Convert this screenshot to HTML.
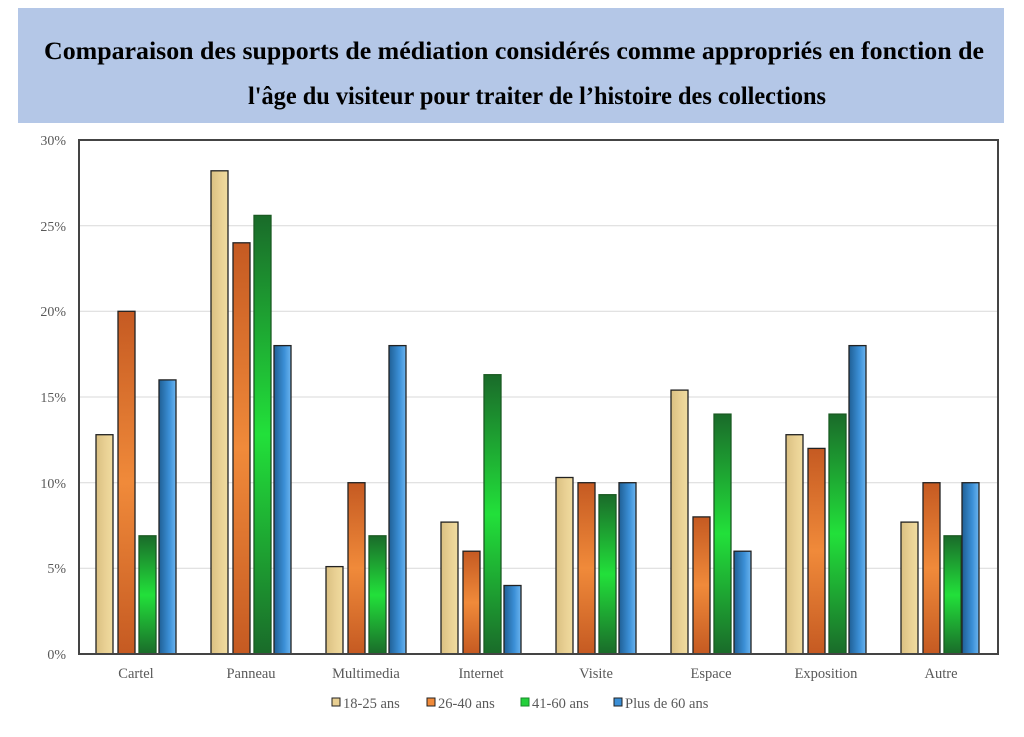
<!DOCTYPE html>
<html><head><meta charset="utf-8"><style>
body{margin:0;background:#fff;}
svg{display:block;}
</style></head><body>
<svg width="1024" height="737" viewBox="0 0 1024 737" xmlns="http://www.w3.org/2000/svg">
<defs>
<linearGradient id="gt" x1="0" y1="0" x2="1" y2="0"><stop offset="0" stop-color="#d9bf82"/><stop offset="0.5" stop-color="#e8cf92"/><stop offset="1" stop-color="#f0dca0"/></linearGradient>
<linearGradient id="go" x1="0" y1="0" x2="0" y2="1"><stop offset="0" stop-color="#c55a22"/><stop offset="0.5" stop-color="#f08a3a"/><stop offset="1" stop-color="#c55a22"/></linearGradient>
<linearGradient id="gg" x1="0" y1="0" x2="0" y2="1"><stop offset="0" stop-color="#1a6b2a"/><stop offset="0.5" stop-color="#22e03a"/><stop offset="1" stop-color="#1a6b2a"/></linearGradient>
<linearGradient id="gb" x1="0" y1="0" x2="1" y2="0"><stop offset="0" stop-color="#1f5f95"/><stop offset="0.6" stop-color="#3b8fd6"/><stop offset="1" stop-color="#6ab4f0"/></linearGradient>
</defs>
<rect x="18" y="8" width="986" height="115" fill="#b4c7e7"/>
<g font-family="Liberation Serif, serif" font-weight="bold" font-size="25.5" text-anchor="middle" fill="#000">
<text x="514" y="59" textLength="940" lengthAdjust="spacingAndGlyphs">Comparaison des supports de médiation considérés comme appropriés en fonction de</text>
<text x="537" y="104" textLength="578" lengthAdjust="spacingAndGlyphs">l'âge du visiteur pour traiter de l’histoire des collections</text>
</g>
<g stroke="#d9d9d9" stroke-width="1">
<line x1="79" y1="568.3" x2="998" y2="568.3"/><line x1="79" y1="482.7" x2="998" y2="482.7"/>
<line x1="79" y1="397" x2="998" y2="397"/><line x1="79" y1="311.3" x2="998" y2="311.3"/>
<line x1="79" y1="225.7" x2="998" y2="225.7"/>
</g>
<g font-family="Liberation Serif, serif" font-size="14" fill="#595959" text-anchor="end">
<text x="66" y="145">30%</text><text x="66" y="231">25%</text><text x="66" y="316">20%</text>
<text x="66" y="402">15%</text><text x="66" y="488">10%</text><text x="66" y="573">5%</text><text x="66" y="659">0%</text>
</g>
<g stroke="#222" stroke-width="1.3">
<rect x="96" y="434.7" width="17" height="219.3" fill="url(#gt)"/><rect x="118" y="311.3" width="17" height="342.7" fill="url(#go)"/><rect x="139" y="535.8" width="17" height="118.2" fill="url(#gg)" stroke="#1a5a22"/><rect x="159" y="379.9" width="17" height="274.1" fill="url(#gb)"/>
<rect x="211" y="170.8" width="17" height="483.2" fill="url(#gt)"/><rect x="233" y="242.8" width="17" height="411.2" fill="url(#go)"/><rect x="254" y="215.4" width="17" height="438.6" fill="url(#gg)" stroke="#1a5a22"/><rect x="274" y="345.6" width="17" height="308.4" fill="url(#gb)"/>
<rect x="326" y="566.6" width="17" height="87.4" fill="url(#gt)"/><rect x="348" y="482.7" width="17" height="171.3" fill="url(#go)"/><rect x="369" y="535.8" width="17" height="118.2" fill="url(#gg)" stroke="#1a5a22"/><rect x="389" y="345.6" width="17" height="308.4" fill="url(#gb)"/>
<rect x="441" y="522.1" width="17" height="131.9" fill="url(#gt)"/><rect x="463" y="551.2" width="17" height="102.8" fill="url(#go)"/><rect x="484" y="374.7" width="17" height="279.3" fill="url(#gg)" stroke="#1a5a22"/><rect x="504" y="585.5" width="17" height="68.5" fill="url(#gb)"/>
<rect x="556" y="477.5" width="17" height="176.5" fill="url(#gt)"/><rect x="578" y="482.7" width="17" height="171.3" fill="url(#go)"/><rect x="599" y="494.7" width="17" height="159.3" fill="url(#gg)" stroke="#1a5a22"/><rect x="619" y="482.7" width="17" height="171.3" fill="url(#gb)"/>
<rect x="671" y="390.1" width="17" height="263.9" fill="url(#gt)"/><rect x="693" y="516.9" width="17" height="137.1" fill="url(#go)"/><rect x="714" y="414.1" width="17" height="239.9" fill="url(#gg)" stroke="#1a5a22"/><rect x="734" y="551.2" width="17" height="102.8" fill="url(#gb)"/>
<rect x="786" y="434.7" width="17" height="219.3" fill="url(#gt)"/><rect x="808" y="448.4" width="17" height="205.6" fill="url(#go)"/><rect x="829" y="414.1" width="17" height="239.9" fill="url(#gg)" stroke="#1a5a22"/><rect x="849" y="345.6" width="17" height="308.4" fill="url(#gb)"/>
<rect x="901" y="522.1" width="17" height="131.9" fill="url(#gt)"/><rect x="923" y="482.7" width="17" height="171.3" fill="url(#go)"/><rect x="944" y="535.8" width="17" height="118.2" fill="url(#gg)" stroke="#1a5a22"/><rect x="962" y="482.7" width="17" height="171.3" fill="url(#gb)"/>
</g>
<line x1="79" y1="654" x2="998" y2="654" stroke="#d9d9d9" stroke-width="1.5"/>
<rect x="79" y="140" width="919" height="514" fill="none" stroke="#444" stroke-width="2"/>
<g font-family="Liberation Serif, serif" font-size="14.5" fill="#595959" text-anchor="middle">
<text x="136" y="678">Cartel</text><text x="251" y="678">Panneau</text><text x="366" y="678">Multimedia</text><text x="481" y="678">Internet</text>
<text x="596" y="678">Visite</text><text x="711" y="678">Espace</text><text x="826" y="678">Exposition</text><text x="941" y="678">Autre</text>
</g>
<g font-family="Liberation Serif, serif" font-size="14.5" fill="#595959">
<rect x="332" y="698" width="8" height="8" fill="#e8cf92" stroke="#222"/><text x="343" y="708">18-25 ans</text>
<rect x="427" y="698" width="8" height="8" fill="#f08a3a" stroke="#222"/><text x="438" y="708">26-40 ans</text>
<rect x="521" y="698" width="8" height="8" fill="#22d03a" stroke="#1a8a2a"/><text x="532" y="708">41-60 ans</text>
<rect x="614" y="698" width="8" height="8" fill="#3b8fd6" stroke="#222"/><text x="625" y="708">Plus de 60 ans</text>
</g>
</svg>
</body></html>
